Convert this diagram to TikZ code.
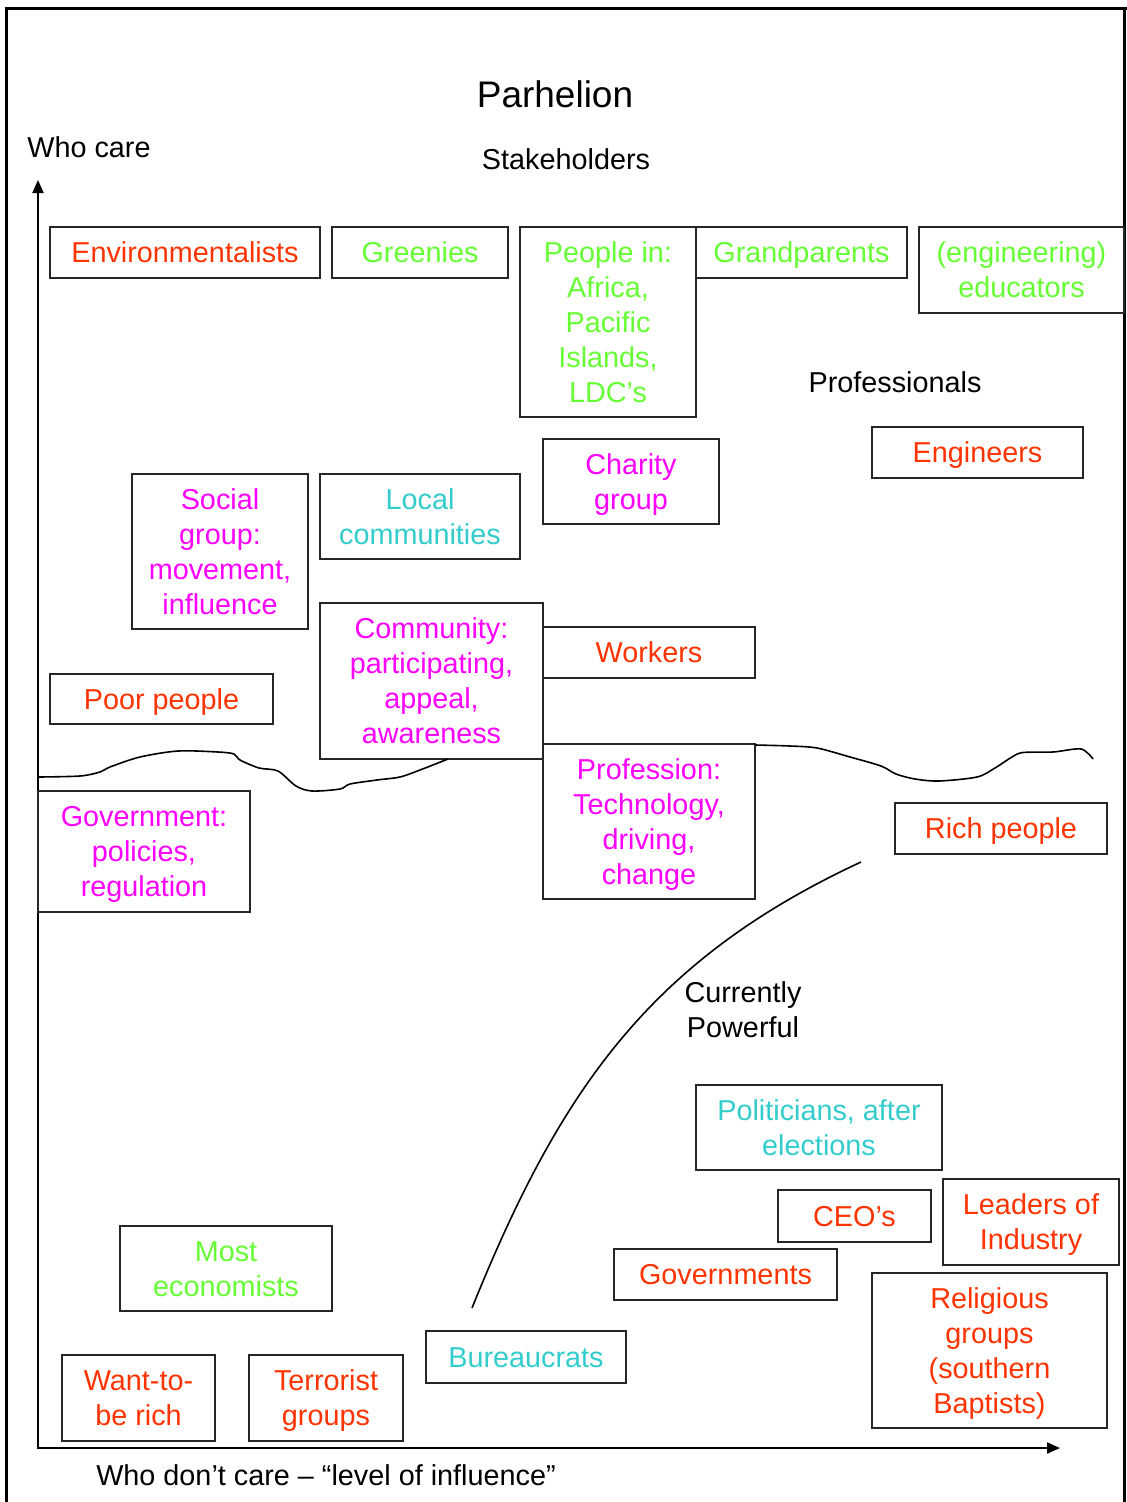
\documentclass[tikz,border=0pt]{standalone}
\usepackage{fontspec}
\setmainfont{Liberation Sans}
\usetikzlibrary{arrows.meta}
\definecolor{cred}{HTML}{FF3300}
\definecolor{cgreen}{HTML}{66FF33}
\definecolor{cmag}{HTML}{FF00FF}
\definecolor{cteal}{HTML}{33CCCC}
\definecolor{edge}{HTML}{262626}
\begin{document}
\begin{tikzpicture}[x=1pt,y=-1pt,
  txt/.style={font=\fontsize{28.8}{35}\selectfont, align=center, inner sep=0pt},
  box/.style={txt, draw=edge, line width=1.8pt, text height=20.6pt, text depth=0pt},
  lines/.style={text height=#1},
  sz/.style 2 args={minimum width=#1, minimum height=#2},
  axis/.style={line width=2pt, {Triangle[length=13pt,width=11pt]}-{Triangle[length=13pt,width=11pt]}},
  border/.style={line width=3pt},
  wave/.style={line width=1.6pt, line join=round}]
\useasboundingbox (0,0) rectangle (1127,1502);

% page frame
\draw[border] (6.5,7) -- (6.5,1502);
\draw[border] (5,8.5) -- (1127,8.5);
\draw[line width=2.5pt] (1124.5,8.5) -- (1124.5,1502);

% titles and axis labels
\node[txt, font=\fontsize{37}{43}\selectfont] (title) at (555,94) {Parhelion};
\node[txt] (stake) at (566,159) {Stakeholders};
\node[txt] (ycare) at (89,147) {Who care};
\node[txt] (xcare) at (326,1475) {Who don’t care – “level of influence”};

% axes
\coordinate (origin) at (38,1448);
\coordinate (ytip) at (38,180);
\coordinate (xtip) at (1060,1448);
\draw[axis] (ytip) -- (origin) -- (xtip);

% stakeholder boxes (lines= cap height plus the line steps above the last baseline)
\node[box, sz={270}{51}, text=cred] (env) at (185,252.5) {Environmentalists};
\node[box, sz={176}{51}, text=cgreen] (green) at (420,252.5) {Greenies};
\node[box, sz={176}{190}, lines=160.6pt, text=cgreen] (people) at (608,322) {People in:\\Africa,\\Pacific\\Islands,\\LDC’s};
\node[box, sz={211}{51}, text=cgreen] (grand) at (801.5,252.5) {Grandparents};
\node[box, sz={205}{86}, lines=55.6pt, text=cgreen] (edu) at (1021.5,270) {(engineering)\\educators};
\node[txt] (prof) at (895,382) {Professionals};
\node[box, sz={211}{51}, text=cred] (eng) at (977.5,452.5) {Engineers};
\node[box, sz={176}{85}, lines=55.6pt, text=cmag] (charity) at (631,481.5) {Charity\\group};
\node[box, sz={200}{85}, lines=55.6pt, text=cteal] (local) at (420,516.5) {Local\\communities};
\node[box, sz={176}{155}, lines=125.6pt, text=cmag] (social) at (220,551.5) {Social\\group:\\movement,\\influence};
\node[box, sz={223}{156}, lines=125.6pt, text=cmag] (comm) at (431.5,681) {Community:\\participating,\\appeal,\\awareness};
\node[box, sz={212}{51}, text=cred] (workers) at (649,652.5) {Workers};
\node[box, sz={223}{50}, text=cred] (poor) at (161.5,699) {Poor people};
\node[box, sz={212}{121}, lines=90.6pt, text=cmag] (gov) at (144,851.5) {Government:\\policies,\\regulation};
\node[box, sz={212}{155}, lines=125.6pt, text=cmag] (profn) at (649,821.5) {Profession:\\Technology,\\driving,\\change};
\node[box, sz={212}{51}, text=cred] (rich) at (1001,828.5) {Rich people};
\node[txt] (power) at (743,1010) {Currently\\Powerful};
\node[box, sz={246}{85}, lines=55.6pt, text=cteal] (polit) at (819,1127.5) {Politicians, after\\elections};
\node[box, sz={153}{52}, text=cred] (ceo) at (854.5,1216) {CEO’s};
\node[box, sz={176}{86}, lines=55.6pt, text=cred] (leaders) at (1031,1222) {Leaders of\\Industry};
\node[box, sz={223}{51}, text=cred] (govs) at (725.5,1274.5) {Governments};
\node[box, sz={235}{155}, lines=125.6pt, text=cred] (relig) at (989.5,1350.5) {Religious\\groups\\(southern\\Baptists)};
\node[box, sz={212}{85}, lines=55.6pt, text=cgreen] (econ) at (226,1268.5) {Most\\economists};
\node[box, sz={200}{52}, text=cteal] (bureau) at (526,1357) {Bureaucrats};
\node[box, sz={153}{86}, lines=55.6pt, text=cred] (want) at (138.5,1398) {Want-to-\\be rich};
\node[box, sz={154}{86}, lines=55.6pt, text=cred] (terror) at (326,1398) {Terrorist\\groups};

% hand-drawn dividing line
\draw[wave] plot[smooth, tension=0.5] coordinates {(39,777) (80,776) (100,772) (110,767) (140,757) (178,751) (218,752) (234,754) (240,760) (259,768) (278,771) (296,786) (312,791) (340,789) (350,784) (377,780) (400,777) (420,770) (448,759)};
\draw[wave] plot[smooth, tension=0.5] coordinates {(755,745) (790,746) (817,748) (850,757) (881,766) (896,774) (915,779) (939,781) (977,777) (995,768) (1012,757) (1023,752.5) (1053,752) (1081,749) (1093,759)};

% boundary of the currently powerful group
\coordinate (cpLow) at (472,1308);
\coordinate (cpHigh) at (861,862);
\draw[wave] (cpLow) .. controls (560,1090) and (650,960) .. (cpHigh);
\end{tikzpicture}
\end{document}
